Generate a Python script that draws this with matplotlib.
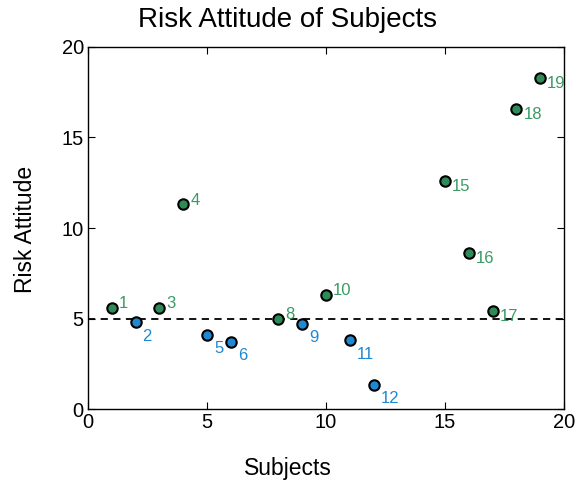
import matplotlib
matplotlib.use("Agg")
import matplotlib.pyplot as plt
import numpy as np

plt.rcParams['font.family'] = ['Liberation Sans', 'DejaVu Sans']

# Subjects above the risk-neutral line (green) and below it (blue)
green_subjects = [1, 3, 4, 8, 10, 15, 16, 17, 18, 19]
green_values = [5.6, 5.6, 11.3, 5.0, 6.3, 12.6, 8.6, 5.4, 16.6, 18.3]
blue_subjects = [2, 5, 6, 9, 11, 12]
blue_values = [4.8, 4.1, 3.7, 4.7, 3.8, 1.35]
neutral = 5

green = '#2e8b57'
blue = '#1f88d2'

fig = plt.figure(figsize=(5.76, 4.83), dpi=100)
ax = fig.add_axes([0.1528, 0.1532, 0.8262, 0.7495])

ax.axhline(neutral, color='black', ls=(0, (4, 3)), lw=1.3, zorder=1)

ax.plot(green_subjects, green_values, 'o', ms=7.5, mfc=green, mec='black', mew=1.5, zorder=3)
ax.plot(blue_subjects, blue_values, 'o', ms=7.5, mfc=blue, mec='black', mew=1.5, zorder=3)

for s, v in zip(green_subjects, green_values):
    off = (5, -4) if s >= 15 else (5, 3)
    ax.annotate(str(s), (s, v), xytext=off, textcoords='offset points',
                color='#3a9a64', fontsize=12, va='center', ha='left')
for s, v in zip(blue_subjects, blue_values):
    ax.annotate(str(s), (s, v), xytext=(5, -10), textcoords='offset points',
                color=blue, fontsize=12, va='center', ha='left')

ax.set_xlim(0, 20)
ax.set_ylim(0, 20)
ax.set_xticks([0, 5, 10, 15, 20])
ax.set_yticks([0, 5, 10, 15, 20])
ax.tick_params(direction='in', top=True, right=True, length=5, width=0.8,
               labelsize=14.5, pad=3)
for sp in ax.spines.values():
    sp.set_linewidth(1.0)

fig.text(0.5, 0.958, 'Risk Attitude of Subjects', ha='center', va='center', fontsize=20)
fig.text(0.5, 0.031, 'Subjects', ha='center', va='center', fontsize=16.5)
fig.text(0.045, 0.525, 'Risk Attitude', ha='center', va='center', rotation=90, fontsize=16.5)

fig.savefig('out.png', dpi=100)
plt.close(fig)
